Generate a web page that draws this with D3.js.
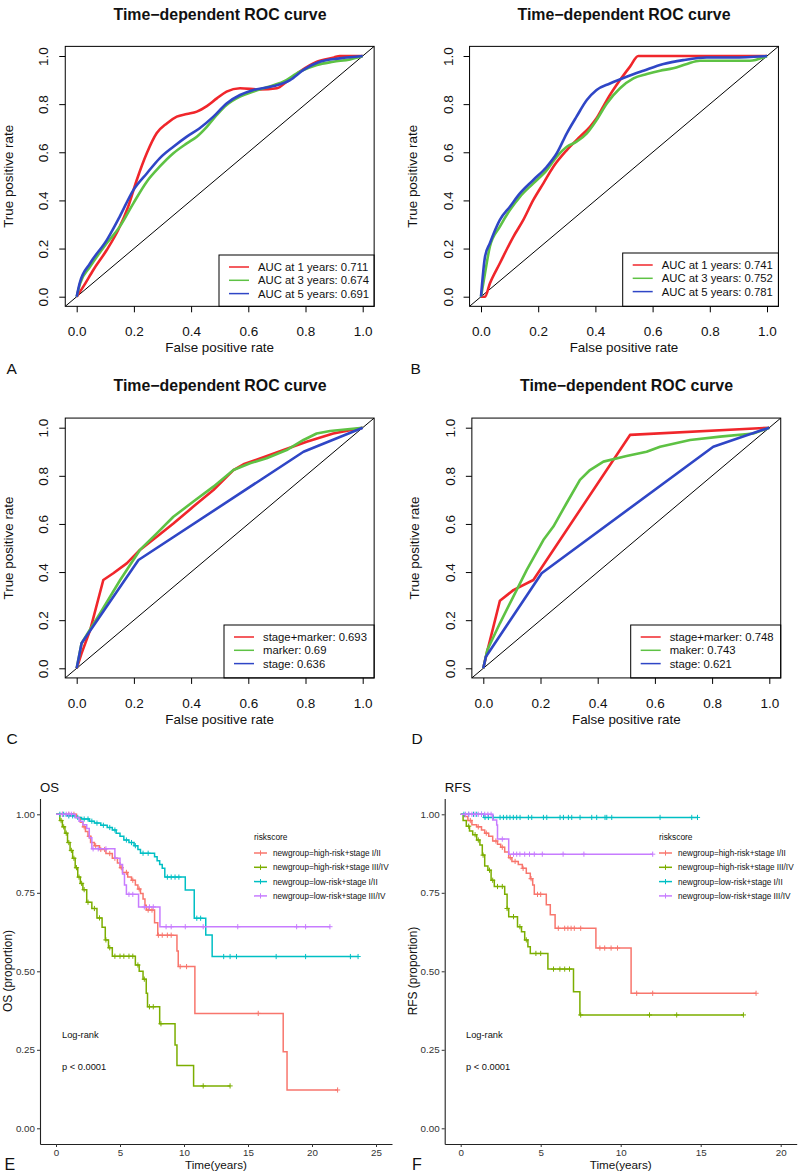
<!DOCTYPE html>
<html><head><meta charset="utf-8">
<script src="https://cdn.jsdelivr.net/npm/d3@7"></script>
<style>body{margin:0;background:#fff}svg{display:block;font-family:"Liberation Sans",Arial,sans-serif}</style>
</head><body>
<svg id="chart" width="800" height="1175"></svg>
<script>
// ---------------- DATA ----------------
const rocTicks = [0, 0.2, 0.4, 0.6, 0.8, 1.0];
const rocTitle = "Time\u2212dependent ROC curve";

const rocA_1y = [[0,0],[0.023,0.042],[0.058,0.111],[0.105,0.194],[0.145,0.277],[0.18,0.374],[0.21,0.485],[0.245,0.596],[0.28,0.68],[0.315,0.72],[0.35,0.748],[0.385,0.759],[0.42,0.769],[0.455,0.792],[0.49,0.824],[0.524,0.852],[0.571,0.866],[0.64,0.861],[0.70,0.866],[0.734,0.893],[0.78,0.935],[0.84,0.976],[0.9,0.994],[0.92,1.0],[1,1]];
const rocA_3y = [[0,0],[0.012,0.055],[0.047,0.125],[0.105,0.222],[0.15,0.29],[0.198,0.388],[0.245,0.478],[0.29,0.54],[0.338,0.596],[0.385,0.637],[0.42,0.665],[0.455,0.706],[0.49,0.755],[0.524,0.796],[0.571,0.831],[0.618,0.852],[0.664,0.87],[0.722,0.893],[0.78,0.935],[0.84,0.963],[0.897,0.976],[0.956,0.986],[1,1]];
const rocA_5y = [[0,0],[0.01,0.055],[0.047,0.139],[0.105,0.235],[0.15,0.332],[0.198,0.443],[0.245,0.512],[0.29,0.575],[0.338,0.623],[0.385,0.665],[0.43,0.7],[0.478,0.748],[0.524,0.803],[0.571,0.838],[0.618,0.859],[0.688,0.875],[0.746,0.9],[0.793,0.942],[0.85,0.976],[0.92,0.99],[1,1]];
const rocA_labels = ["AUC at 1 years: 0.711","AUC at 3 years: 0.674","AUC at 5 years: 0.691"];

const rocB_1y = [[0,0],[0.014,0],[0.031,0.055],[0.066,0.139],[0.113,0.249],[0.148,0.319],[0.183,0.402],[0.218,0.471],[0.253,0.54],[0.3,0.609],[0.346,0.665],[0.381,0.706],[0.404,0.741],[0.44,0.817],[0.486,0.9],[0.521,0.956],[0.55,1],[1,1]];
const rocB_3y = [[0,0],[0.014,0.097],[0.031,0.208],[0.066,0.291],[0.101,0.36],[0.136,0.415],[0.183,0.471],[0.23,0.526],[0.265,0.582],[0.3,0.623],[0.334,0.644],[0.37,0.679],[0.404,0.734],[0.44,0.803],[0.486,0.866],[0.533,0.907],[0.58,0.925],[0.626,0.939],[0.672,0.949],[0.72,0.967],[0.766,0.98],[0.836,0.98],[0.94,0.98],[1,1]];
const rocB_5y = [[0,0],[0.014,0.166],[0.031,0.222],[0.066,0.319],[0.101,0.374],[0.136,0.429],[0.183,0.485],[0.23,0.54],[0.265,0.596],[0.3,0.679],[0.334,0.748],[0.37,0.817],[0.404,0.859],[0.451,0.886],[0.509,0.914],[0.568,0.939],[0.638,0.967],[0.707,0.983],[0.789,0.994],[0.882,0.994],[1,1]];
const rocB_labels = ["AUC at 1 years: 0.741","AUC at 3 years: 0.752","AUC at 5 years: 0.781"];

const rocC_combined = [[0,0],[0.017,0.062],[0.047,0.159],[0.093,0.367],[0.128,0.395],[0.175,0.436],[0.221,0.492],[0.28,0.547],[0.338,0.602],[0.408,0.672],[0.478,0.741],[0.548,0.824],[0.583,0.848],[0.653,0.877],[0.723,0.907],[0.804,0.942],[0.897,0.976],[1,1]];
const rocC_marker = [[0,0],[0.017,0.104],[0.082,0.229],[0.152,0.367],[0.221,0.492],[0.28,0.561],[0.338,0.63],[0.408,0.693],[0.478,0.755],[0.548,0.824],[0.606,0.852],[0.664,0.873],[0.734,0.907],[0.793,0.949],[0.839,0.976],[0.886,0.986],[1,1]];
const rocC_stage = [[0,0],[0.017,0.104],[0.216,0.45],[0.793,0.9],[1,1]];
const rocC_labels = ["stage+marker: 0.693","marker: 0.69","stage: 0.636"];

const rocD_combined = [[0,0],[0.012,0.062],[0.058,0.281],[0.105,0.325],[0.175,0.367],[0.513,0.97],[1,1]];
const rocD_marker = [[0,0],[0.014,0.076],[0.058,0.187],[0.105,0.298],[0.152,0.409],[0.21,0.533],[0.245,0.589],[0.291,0.686],[0.338,0.783],[0.373,0.824],[0.42,0.859],[0.501,0.882],[0.571,0.9],[0.618,0.921],[0.723,0.949],[0.828,0.963],[0.944,0.976],[1,1]];
const rocD_stage = [[0,0],[0.009,0.048],[0.204,0.395],[0.804,0.921],[1,1]];
const rocD_labels = ["stage+marker: 0.748","maker: 0.743","stage: 0.621"];

const rocColors = ["#F0262B","#5EC244","#2F46C6"];

// Kaplan-Meier: steps [time, survival after drop], censor times, end time
const kmGroups = ["newgroup=high-risk+stage I/II","newgroup=high-risk+stage III/IV","newgroup=low-risk+stage I/II","newgroup=low-risk+stage III/IV"];
const kmColors = ["#F8766D","#7CAE00","#00BFC4","#C77CFF"];
const kmYTicks = [0, 0.25, 0.5, 0.75, 1.0];
const osXTicks = [0, 5, 10, 15, 20, 25];
const rfsXTicks = [0, 5, 10, 15, 20];

const osHighEarlySteps = [[1.6,0.99],[1.9,0.975],[2.1,0.96],[2.3,0.945],[2.5,0.93],[2.7,0.91],[3.0,0.90],[3.4,0.888],[3.9,0.875],[4.4,0.86],[4.8,0.845],[5.0,0.83],[5.2,0.815],[5.6,0.80],[5.9,0.79],[6.2,0.775],[6.4,0.762],[6.6,0.748],[6.8,0.73],[6.95,0.71],[7.05,0.695],[7.7,0.655],[7.95,0.615],[9.45,0.565],[9.55,0.515],[10.85,0.366],[17.75,0.244],[18.05,0.122]];
const osHighEarlyCensor = [0.5,1.0,1.4,2.2,2.6,3.1,3.5,3.8,4.2,4.6,5.1,5.5,6.0,6.5,7.2,7.5,8.0,8.3,8.7,9.0,9.7,10.2,15.8,22.0];
const osHighEarlyEnd = 22.0;
const osHighLateSteps = [[0.3,0.98],[0.5,0.96],[0.7,0.94],[0.9,0.91],[1.1,0.885],[1.3,0.86],[1.5,0.83],[1.7,0.80],[1.9,0.78],[2.1,0.76],[2.4,0.72],[2.8,0.70],[3.2,0.67],[3.6,0.64],[3.85,0.60],[4.1,0.575],[4.4,0.548],[6.2,0.52],[6.5,0.50],[6.8,0.475],[7.05,0.43],[7.15,0.387],[8.1,0.333],[9.3,0.265],[9.45,0.2],[10.75,0.135]];
const osHighLateCensor = [0.4,0.6,0.8,1.0,1.2,1.4,1.6,1.8,2.0,2.2,2.5,3.0,3.4,3.9,4.2,4.6,5.0,5.3,5.7,6.0,6.4,6.9,7.3,7.6,8.2,11.5,13.6];
const osHighLateEnd = 13.6;
const osLowEarlySteps = [[0.8,0.995],[1.5,0.99],[2.0,0.985],[2.6,0.978],[3.0,0.972],[3.5,0.965],[4.0,0.958],[4.4,0.95],[4.7,0.94],[5.0,0.93],[5.3,0.918],[5.7,0.91],[6.1,0.9],[6.4,0.888],[6.6,0.876],[7.7,0.865],[7.9,0.852],[8.1,0.84],[8.3,0.828],[8.5,0.80],[10.1,0.759],[10.8,0.669],[11.7,0.616],[12.2,0.547]];
const osLowEarlyCensor = [0.3,0.6,1.0,1.3,1.7,2.2,2.5,2.8,3.2,3.7,4.2,4.6,5.5,5.9,6.2,6.8,7.2,8.7,9.0,9.3,9.6,11.0,11.3,13.1,13.6,14.1,17.2,19.5,23.0,23.6];
const osLowEarlyEnd = 23.6;
const osLowLateSteps = [[1.5,0.99],[1.8,0.978],[2.1,0.967],[2.4,0.955],[2.6,0.925],[2.8,0.89],[4.6,0.86],[5.0,0.84],[5.2,0.81],[5.35,0.775],[5.5,0.745],[6.45,0.705],[8.12,0.642]];
const osLowLateCensor = [0.5,0.8,1.0,1.2,2.9,3.3,3.9,5.7,6.0,6.9,7.3,7.6,8.6,9.0,10.1,11.5,14.2,18.8,19.5,21.4];
const osLowLateEnd = 21.4;

const rfsHighEarlySteps = [[0.25,0.993],[0.45,0.98],[0.7,0.967],[1.0,0.96],[1.3,0.95],[1.5,0.94],[1.75,0.93],[2.0,0.915],[2.3,0.905],[2.5,0.895],[2.75,0.88],[3.0,0.862],[3.2,0.85],[3.6,0.84],[3.85,0.828],[4.1,0.812],[4.35,0.795],[4.5,0.775],[4.6,0.745],[5.35,0.712],[5.6,0.68],[5.9,0.637],[8.45,0.574],[10.65,0.43]];
const rfsHighEarlyCensor = [0.6,1.1,1.6,2.2,2.6,3.1,3.4,3.9,4.4,4.8,5.0,6.1,6.5,6.7,6.9,7.1,7.5,8.7,9.0,9.4,9.8,11.0,12.0,18.46];
const rfsHighEarlyEnd = 18.46;
const rfsHighLateSteps = [[0.15,0.98],[0.35,0.962],[0.55,0.947],[0.75,0.935],[1.0,0.918],[1.2,0.902],[1.35,0.87],[1.5,0.835],[1.7,0.822],[1.9,0.79],[2.1,0.77],[2.75,0.745],[2.9,0.70],[3.0,0.674],[3.55,0.642],[3.8,0.626],[4.0,0.60],[4.2,0.578],[4.35,0.557],[5.45,0.507],[7.05,0.435],[7.45,0.361]];
const rfsHighLateCensor = [0.5,0.9,1.1,1.4,1.8,2.0,2.3,2.6,2.9,3.3,3.7,4.1,4.7,5.0,5.8,6.2,6.5,6.8,7.5,11.8,13.5,17.67];
const rfsHighLateEnd = 17.67;
const rfsLowEarlySteps = [[1.45,0.99]];
const rfsLowEarlyCensor = [0.2,0.5,0.8,1.0,1.3,1.52,1.73,2.04,2.46,2.67,2.88,3.08,3.29,3.5,3.71,4.23,4.44,5.17,5.38,6.21,6.42,6.73,6.94,7.46,8.19,8.5,9.02,9.13,9.44,12.46,14.44,14.8];
const rfsLowEarlyEnd = 14.8;
const rfsLowLateSteps = [[2.0,0.982],[2.25,0.966],[2.3,0.921],[3.0,0.873]];
const rfsLowLateCensor = [0.3,0.5,0.7,0.9,1.1,1.3,1.5,1.7,1.9,2.6,3.3,3.5,3.7,4.0,4.3,4.6,5.1,6.4,7.7,12.0];
const rfsLowLateEnd = 12.0;

// ---------------- DRAWING ----------------
const svg = d3.select("#chart");
const FONT = "'Liberation Sans', Arial, sans-serif";
let clipId = 0;

function rocPanel(o) {
  const xs = d3.scaleLinear().domain([0, 1]).range([o.x0, o.x1]);
  const ys = d3.scaleLinear().domain([0, 1]).range([o.y0, o.y1]);
  const g = svg.append("g");
  const L = xs(-0.04), R = xs(1.04), T = ys(1.04), B = ys(-0.04);
  const id = "clip" + (clipId++);
  g.append("clipPath").attr("id", id).append("rect")
    .attr("x", L).attr("y", T).attr("width", R - L).attr("height", B - T);
  const plot = g.append("g").attr("clip-path", `url(#${id})`);
  plot.append("line").attr("x1", xs(-0.04)).attr("y1", ys(-0.04)).attr("x2", xs(1.04)).attr("y2", ys(1.04))
    .attr("stroke", "#000").attr("stroke-width", 1);
  const line = d3.line().x(d => xs(d[0])).y(d => ys(d[1])).curve(o.curve);
  o.series.forEach((s, i) => {
    plot.append("path").attr("d", line(s)).attr("fill", "none")
      .attr("stroke", rocColors[i]).attr("stroke-width", 2.6).attr("stroke-linejoin", "round");
  });
  // legend
  const lgL = o.legendLeft, lgT = o.legendTop;
  g.append("rect").attr("x", lgL).attr("y", lgT).attr("width", R - lgL).attr("height", B - lgT)
    .attr("fill", "#fff").attr("stroke", "#000").attr("stroke-width", 1);
  o.labels.forEach((lab, i) => {
    const yy = lgT + 12 + i * 13.3;
    g.append("line").attr("x1", lgL + 10).attr("x2", lgL + 30).attr("y1", yy).attr("y2", yy)
      .attr("stroke", rocColors[i]).attr("stroke-width", 1.5);
    g.append("text").attr("x", lgL + 39).attr("y", yy + 4).attr("font-size", 11.3).attr("fill", "#111")
      .attr("font-family", FONT).text(lab);
  });
  g.append("rect").attr("x", L).attr("y", T).attr("width", R - L).attr("height", B - T)
    .attr("fill", "none").attr("stroke", "#000").attr("stroke-width", 1);
  // axes
  const xa = g.append("g").attr("transform", `translate(0,${B})`)
    .call(d3.axisBottom(xs).tickValues(rocTicks).tickFormat(d3.format(".1f")).tickSize(6).tickPadding(14.4));
  xa.select(".domain").remove();
  xa.selectAll("text").attr("font-size", 13.5).attr("font-family", FONT).attr("fill", "#111");
  const ya = g.append("g").attr("transform", `translate(${L},0)`)
    .call(d3.axisLeft(ys).tickValues(rocTicks).tickFormat(d3.format(".1f")).tickSize(6));
  ya.select(".domain").remove();
  ya.selectAll("text").attr("x", null).attr("dy", null).attr("text-anchor", "middle")
    .attr("transform", "translate(-17,0) rotate(-90)").attr("font-size", 13.5).attr("font-family", FONT).attr("fill", "#111");
  // labels
  g.append("text").attr("x", (xs(0) + xs(1)) / 2).attr("y", B + 46).attr("text-anchor", "middle")
    .attr("font-size", 13.4).attr("font-family", FONT).attr("fill", "#111").text("False positive rate");
  g.append("text").attr("transform", `translate(${o.ylabX},${(ys(0) + ys(1)) / 2}) rotate(-90)`).attr("text-anchor", "middle")
    .attr("font-size", 13.4).attr("font-family", FONT).attr("fill", "#111").text("True positive rate");
  g.append("text").attr("x", o.titleX).attr("y", o.titleY).attr("text-anchor", "middle")
    .attr("font-size", 15.9).attr("font-weight", "bold").attr("font-family", FONT).attr("fill", "#111").text(rocTitle);
  g.append("text").attr("x", o.letterX).attr("y", o.letterY).attr("font-size", 15.5)
    .attr("font-family", FONT).attr("fill", "#111").text(o.letter);
}

rocPanel({x0: 76.7, x1: 362.7, y0: 296.7, y1: 56, series: [rocA_1y, rocA_3y, rocA_5y], labels: rocA_labels,
  curve: d3.curveMonotoneX, legendLeft: 219, legendTop: 255, ylabX: 12.5, titleX: 220, titleY: 20, letter: "A", letterX: 6.5, letterY: 374.3});
rocPanel({x0: 481, x1: 767, y0: 296.7, y1: 56, series: [rocB_1y, rocB_3y, rocB_5y], labels: rocB_labels,
  curve: d3.curveMonotoneX, legendLeft: 622.7, legendTop: 253, ylabX: 416.5, titleX: 624, titleY: 20, letter: "B", letterX: 410.5, letterY: 374.3});
rocPanel({x0: 76.7, x1: 362.7, y0: 668.3, y1: 427.7, series: [rocC_combined, rocC_marker, rocC_stage], labels: rocC_labels,
  curve: d3.curveLinear, legendLeft: 224, legendTop: 625, ylabX: 12.5, titleX: 220, titleY: 391, letter: "C", letterX: 6.5, letterY: 743.5});
rocPanel({x0: 483.3, x1: 769.3, y0: 668.3, y1: 427.7, series: [rocD_combined, rocD_marker, rocD_stage], labels: rocD_labels,
  curve: d3.curveLinear, legendLeft: 630.7, legendTop: 625, ylabX: 419, titleX: 626.5, titleY: 391, letter: "D", letterX: 411.5, letterY: 743.5});

function survAt(steps, t) {
  let s = 1;
  for (const st of steps) { if (st[0] <= t) s = st[1]; else break; }
  return s;
}

function kmPanel(o) {
  const xs = d3.scaleLinear().domain([o.xmin, o.xmax]).range([o.axL, o.axR]);
  const ys = d3.scaleLinear().domain([-0.05, 1.05]).range([1144.0, 798.6]);
  const g = svg.append("g");
  o.groups.forEach((gr, i) => {
    const pts = [[0, 1], ...gr.steps, [gr.end, gr.steps[gr.steps.length - 1][1]]];
    const line = d3.line().x(d => xs(d[0])).y(d => ys(d[1])).curve(d3.curveStepAfter);
    g.append("path").attr("d", line(pts)).attr("fill", "none").attr("stroke", kmColors[i]).attr("stroke-width", 1.5);
    const cg = g.append("g").attr("stroke", kmColors[i]).attr("stroke-width", 1);
    gr.censor.forEach(t => {
      const cx = xs(t), cy = ys(survAt(gr.steps, t));
      cg.append("line").attr("x1", cx - 2.6).attr("x2", cx + 2.6).attr("y1", cy).attr("y2", cy);
      cg.append("line").attr("x1", cx).attr("x2", cx).attr("y1", cy - 2.6).attr("y2", cy + 2.6);
    });
  });
  const xa = g.append("g").attr("transform", `translate(0,${ys(-0.05)})`)
    .call(d3.axisBottom(xs).tickValues(o.xticks).tickSize(3).tickSizeOuter(0).tickPadding(2));
  const ya = g.append("g").attr("transform", `translate(${o.axL},0)`)
    .call(d3.axisLeft(ys).tickValues(kmYTicks).tickFormat(d3.format(".2f")).tickSize(3).tickSizeOuter(0).tickPadding(2));
  [xa, ya].forEach(a => {
    a.select(".domain").attr("stroke", "#222").attr("stroke-width", 1.1);
    a.selectAll(".tick line").attr("stroke", "#333");
    a.selectAll("text").attr("font-size", 9.8).attr("font-family", FONT).attr("fill", "#333");
  });
  g.append("text").attr("x", o.axL).attr("y", 791.7).attr("font-size", 13.2).attr("font-family", FONT).attr("fill", "#111").text(o.title);
  g.append("text").attr("transform", `translate(${o.ylabX},${971}) rotate(-90)`).attr("text-anchor", "middle")
    .attr("font-size", 11.9).attr("font-family", FONT).attr("fill", "#111").text(o.ylab);
  g.append("text").attr("x", (xs(0) + xs(o.xticks[o.xticks.length - 1])) / 2).attr("y", 1168.5).attr("text-anchor", "middle")
    .attr("font-size", 11.7).attr("font-family", FONT).attr("fill", "#111").text("Time(years)");
  g.append("text").attr("x", o.lrX).attr("y", 1038).attr("font-size", 9.3).attr("font-family", FONT).attr("fill", "#111").text("Log-rank");
  g.append("text").attr("x", o.lrX).attr("y", 1070).attr("font-size", 9.3).attr("font-family", FONT).attr("fill", "#111").text("p < 0.0001");
  // legend
  g.append("text").attr("x", o.legX).attr("y", 840).attr("font-size", 8.4).attr("font-family", FONT).attr("fill", "#111").text("riskscore");
  kmGroups.forEach((name, i) => {
    const yy = 853 + i * 14.3;
    g.append("line").attr("x1", o.legX).attr("x2", o.legX + 13).attr("y1", yy).attr("y2", yy).attr("stroke", kmColors[i]).attr("stroke-width", 1.5);
    g.append("line").attr("x1", o.legX + 6.5).attr("x2", o.legX + 6.5).attr("y1", yy - 2.6).attr("y2", yy + 2.6).attr("stroke", kmColors[i]).attr("stroke-width", 1);
    g.append("text").attr("x", o.legX + 19).attr("y", yy + 3).attr("font-size", 8.2).attr("font-family", FONT).attr("fill", "#111").text(name);
  });
  g.append("text").attr("x", o.letterX).attr("y", 1170).attr("font-size", 16).attr("font-family", FONT).attr("fill", "#111").text(o.letter);
}

kmPanel({xmin: -1.25, xmax: 26.25, axL: 40, axR: 392, xticks: osXTicks, title: "OS", ylab: "OS (proportion)", ylabX: 12,
  lrX: 62, legX: 254, letter: "E", letterX: 4.5,
  groups: [
    {steps: osHighEarlySteps, censor: osHighEarlyCensor, end: osHighEarlyEnd},
    {steps: osHighLateSteps, censor: osHighLateCensor, end: osHighLateEnd},
    {steps: osLowEarlySteps, censor: osLowEarlyCensor, end: osLowEarlyEnd},
    {steps: osLowLateSteps, censor: osLowLateCensor, end: osLowLateEnd}
  ]});
kmPanel({xmin: -1, xmax: 21, axL: 444.7, axR: 796.7, xticks: rfsXTicks, title: "RFS", ylab: "RFS (proportion)", ylabX: 416.5,
  lrX: 466, legX: 659, letter: "F", letterX: 412,
  groups: [
    {steps: rfsHighEarlySteps, censor: rfsHighEarlyCensor, end: rfsHighEarlyEnd},
    {steps: rfsHighLateSteps, censor: rfsHighLateCensor, end: rfsHighLateEnd},
    {steps: rfsLowEarlySteps, censor: rfsLowEarlyCensor, end: rfsLowEarlyEnd},
    {steps: rfsLowLateSteps, censor: rfsLowLateCensor, end: rfsLowLateEnd}
  ]});
</script>
</body></html>
